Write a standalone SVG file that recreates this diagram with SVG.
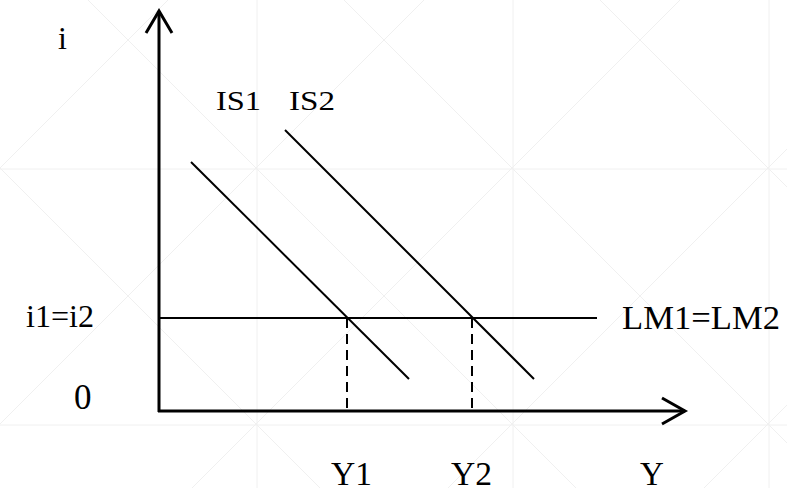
<svg xmlns="http://www.w3.org/2000/svg" width="787" height="488" viewBox="0 0 787 488">
<style>
.wm{stroke:#f0f0f0;stroke-width:1;fill:none}
.ax{stroke:#000;stroke-width:3;fill:none;stroke-linecap:butt}
.ln{stroke:#000;stroke-width:2;fill:none}
.dash{stroke:#000;stroke-width:2;fill:none;stroke-dasharray:10 6}
.t{fill:#000}
</style>
<rect width="787" height="488" fill="#fff"/>
<g id="watermark" class="wm">
<line x1="257" y1="0" x2="257" y2="488"/>
<line x1="513" y1="0" x2="513" y2="488"/>
<line x1="769" y1="0" x2="769" y2="488"/>
<line x1="0" y1="169" x2="787" y2="169"/>
<line x1="0" y1="425" x2="787" y2="425"/>
<line x1="0" y1="168" x2="168" y2="0"/>
<line x1="0" y1="424" x2="424" y2="0"/>
<line x1="0" y1="680" x2="680" y2="0"/>
<line x1="0" y1="936" x2="936" y2="0"/>
<line x1="0" y1="1192" x2="1192" y2="0"/>
<line x1="88" y1="0" x2="576" y2="488"/>
<line x1="344" y1="0" x2="832" y2="488"/>
<line x1="600" y1="0" x2="1088" y2="488"/>
<line x1="0" y1="168" x2="320" y2="488"/>
</g>
<g id="connectors">
<line class="ln" x1="191" y1="162" x2="409" y2="379"/>
<line class="ln" x1="285" y1="130" x2="534" y2="379"/>
<line class="ln" x1="159" y1="318" x2="597" y2="318"/>
<line class="dash" x1="347" y1="318" x2="347" y2="411"/>
<line class="dash" x1="472" y1="318" x2="472" y2="411"/>
</g>
<g id="y-axis">
<line class="ax" x1="159" y1="11" x2="159" y2="412"/>
<polyline class="ax" points="146,33 159,11 172,33"/>
</g>
<g id="x-axis">
<line class="ax" x1="158" y1="411" x2="685" y2="411"/>
<polyline class="ax" points="662,398 685,411 662,424"/>
</g>
<g id="labels" font-family="'Liberation Serif', 'Times New Roman', serif" class="t">
<text x="58" y="49" font-size="32">i</text>
<text x="216" y="110" font-size="28" textLength="45" lengthAdjust="spacingAndGlyphs">IS1</text>
<text x="289" y="110" font-size="28" textLength="46" lengthAdjust="spacingAndGlyphs">IS2</text>
<text x="26" y="327" font-size="31" textLength="68" lengthAdjust="spacingAndGlyphs">i1=i2</text>
<text x="622" y="329" font-size="33" textLength="158" lengthAdjust="spacingAndGlyphs">LM1=LM2</text>
<text x="74" y="409" font-size="35">0</text>
<text x="331" y="485" font-size="33" textLength="41" lengthAdjust="spacingAndGlyphs">Y1</text>
<text x="451" y="485" font-size="33" textLength="41" lengthAdjust="spacingAndGlyphs">Y2</text>
<text x="640" y="485" font-size="33">Y</text>
</g>
</svg>
